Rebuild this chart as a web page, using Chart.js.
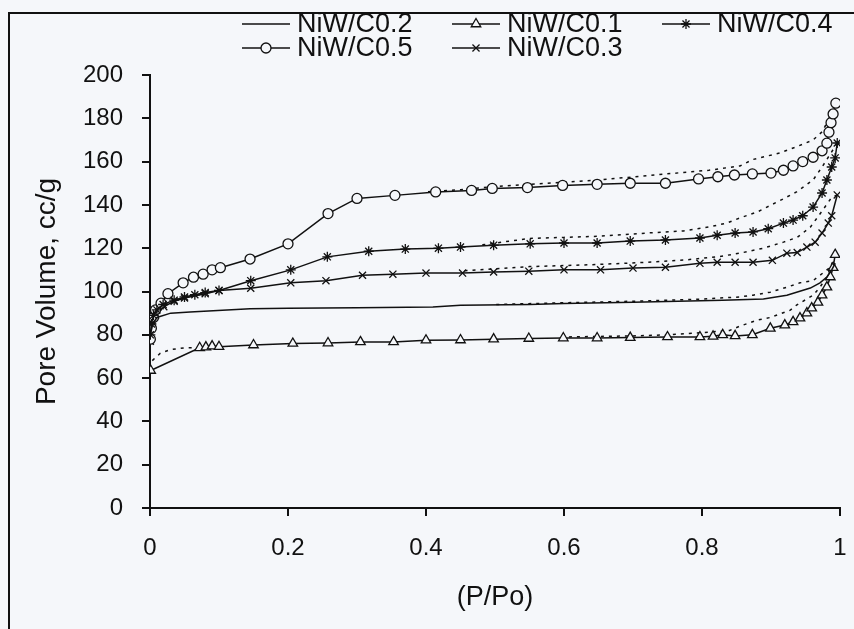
<!DOCTYPE html>
<html>
<head>
<meta charset="utf-8">
<script src="https://cdn.jsdelivr.net/npm/chart.js@4.4.1/dist/chart.umd.min.js"></script>
<style>
  body { margin: 0; background: #f5f7fa; }
  #wrap { position: relative; width: 854px; height: 629px; }
</style>
</head>
<body>
<div id="wrap"><canvas id="myChart" width="854" height="629"></canvas></div>
<script>
// relative pressure (P/Po) and pore volume (cc/g), adsorption + desorption branches
var c02AdsP = [0.0005, 0.004, 0.01, 0.03, 0.058, 0.145, 0.2, 0.3, 0.41, 0.45, 0.55, 0.6, 0.7, 0.83, 0.889, 0.923, 0.957, 0.971, 0.981, 0.988, 0.993];
var c02AdsV = [80, 85, 88, 90, 90.5, 92, 92.3, 92.5, 92.8, 93.7, 94, 94.5, 95, 96, 96.5, 98.3, 101.6, 104, 106.7, 110, 113];
var c02DesP = [0.993, 0.975, 0.961, 0.942, 0.923, 0.899, 0.874, 0.855, 0.8, 0.7, 0.6, 0.5];
var c02DesV = [113, 108.5, 105, 104, 102, 99.7, 98.3, 97.5, 96.5, 95.5, 94.8, 94];

var c01AdsP = [0.001, 0.072, 0.081, 0.09, 0.1, 0.15, 0.207, 0.258, 0.305, 0.353, 0.4, 0.45, 0.498, 0.549, 0.599, 0.648, 0.696, 0.75, 0.797, 0.816, 0.83, 0.848, 0.873, 0.899, 0.92, 0.932, 0.942, 0.952, 0.959, 0.968, 0.974, 0.981, 0.986, 0.99, 0.993];
var c01AdsV = [63.5, 74, 74.3, 74.8, 74.5, 75.3, 76, 76.2, 76.7, 76.7, 77.5, 77.6, 78, 78.3, 78.5, 78.5, 78.7, 79, 79, 79.3, 80, 79.5, 80, 83, 84.5, 86, 87.7, 90, 92.3, 95, 98.3, 102, 106.7, 111, 117];
var c01DesP = [0.993, 0.981, 0.971, 0.961, 0.937, 0.928, 0.899, 0.88, 0.855, 0.84, 0.8, 0.75, 0.7, 0.6];
var c01DesV = [117, 106.7, 102, 98.3, 93.7, 91.4, 88, 86.8, 84, 82, 81, 80, 79.5, 79];
var c01DesLowP = [0.072, 0.05, 0.03, 0.015, 0.003];
var c01DesLowV = [74, 74, 73.2, 71.5, 68];

var c04AdsP = [0.0005, 0.002, 0.005, 0.01, 0.019, 0.035, 0.05, 0.065, 0.08, 0.1, 0.146, 0.204, 0.257, 0.317, 0.37, 0.418, 0.45, 0.498, 0.551, 0.6, 0.648, 0.696, 0.747, 0.797, 0.822, 0.848, 0.874, 0.896, 0.918, 0.932, 0.946, 0.961, 0.974, 0.981, 0.988, 0.993, 0.996];
var c04AdsV = [80, 85, 89, 91.5, 94, 96, 97.5, 98.5, 99.5, 100.5, 105, 110, 116, 118.6, 119.6, 120, 120.5, 121.4, 122, 122.4, 122.4, 123.3, 123.8, 124.7, 126, 127, 127.5, 129, 131.6, 133, 135, 139, 145.5, 151.5, 157.5, 161.7, 168.6];
var c04DesP = [0.996, 0.974, 0.961, 0.937, 0.913, 0.88, 0.855, 0.836, 0.81, 0.773, 0.72, 0.65, 0.6, 0.55, 0.48];
var c04DesV = [168.6, 157.5, 151.5, 146, 142, 136.7, 134, 131.6, 129.8, 128, 127, 125.5, 125, 124.5, 121.5];

var c05AdsP = [0.0005, 0.002, 0.005, 0.008, 0.016, 0.026, 0.048, 0.063, 0.077, 0.09, 0.102, 0.145, 0.2, 0.258, 0.3, 0.355, 0.414, 0.466, 0.496, 0.547, 0.598, 0.648, 0.696, 0.747, 0.795, 0.823, 0.847, 0.873, 0.9, 0.918, 0.932, 0.946, 0.961, 0.974, 0.981, 0.984, 0.987, 0.99, 0.994];
var c05AdsV = [78, 83, 88, 91.5, 94.6, 99, 104, 106.6, 108, 110, 111, 115, 122, 136, 143, 144.4, 146, 146.7, 147.6, 148, 149, 149.5, 150, 150, 152, 153, 153.8, 154.3, 154.7, 156, 158, 160, 162, 165, 168.5, 173.6, 178, 182, 187];
var c05DesP = [0.994, 0.975, 0.961, 0.938, 0.913, 0.874, 0.855, 0.81, 0.773, 0.72, 0.65, 0.6, 0.5, 0.45, 0.4];
var c05DesV = [187, 174, 170, 167, 164, 161, 158, 156, 155, 153.5, 151.5, 150.5, 148.5, 147, 146];

var c03AdsP = [0.0005, 0.003, 0.008, 0.02, 0.035, 0.05, 0.08, 0.1, 0.146, 0.204, 0.255, 0.308, 0.352, 0.4, 0.453, 0.498, 0.549, 0.6, 0.653, 0.7, 0.747, 0.797, 0.822, 0.848, 0.874, 0.902, 0.923, 0.938, 0.952, 0.964, 0.974, 0.983, 0.988, 0.996];
var c03AdsV = [77, 84, 89, 93, 95.5, 97, 99, 100.5, 101.5, 104, 105, 107.5, 108, 108.5, 108.5, 109, 109.4, 110, 110, 110.8, 111.2, 113, 113.5, 113.5, 113.5, 114.4, 117.7, 118, 120.5, 122.8, 127, 131.6, 135, 144.6];
var c03DesP = [0.996, 0.988, 0.975, 0.957, 0.938, 0.918, 0.889, 0.855, 0.822, 0.773, 0.72, 0.65, 0.55, 0.45];
var c03DesV = [144.6, 143.5, 137.6, 129.7, 125, 122.8, 120, 117.7, 116, 114.5, 113.5, 112.5, 111.5, 109.5];

var xTicks = [0, 0.2, 0.4, 0.6, 0.8, 1];
var yTicks = [0, 20, 40, 60, 80, 100, 120, 140, 160, 180, 200];

var bg = '#f5f7fa';
var ink = '#111';
var fontFam = "'Liberation Sans', Arial, sans-serif";

function pts(px, py) {
    return px.map(function(p, i) { return { x: p, y: py[i] }; });
}

function ads(label, px, py, style, r) {
    return {
        label: label,
        data: pts(px, py),
        showLine: true,
        borderColor: ink,
        borderWidth: 1.5,
        pointStyle: style,
        pointRadius: style ? r : 0,
        pointBackgroundColor: bg,
        pointBorderColor: ink,
        pointBorderWidth: 1.3
    };
}

function des(px, py) {
    return {
        label: '',
        data: pts(px, py),
        showLine: true,
        borderColor: ink,
        borderWidth: 1.5,
        borderDash: [3, 5],
        pointRadius: 0
    };
}

var legendItems = [
    { label: 'NiW/C0.2', style: false, r: 0, x: 242, y: 24 },
    { label: 'NiW/C0.1', style: 'triangle', r: 5.5, x: 452, y: 24 },
    { label: 'NiW/C0.4', style: 'star', r: 5, x: 662, y: 24 },
    { label: 'NiW/C0.5', style: 'circle', r: 5, x: 242, y: 48 },
    { label: 'NiW/C0.3', style: 'crossRot', r: 5, x: 452, y: 48 }
];

// page background + scanned frame
var framePlugin = {
    id: 'frame',
    beforeDraw: function(chart) {
        var ctx = chart.ctx;
        ctx.save();
        ctx.fillStyle = bg;
        ctx.fillRect(0, 0, chart.width, chart.height);
        ctx.strokeStyle = ink;
        ctx.lineWidth = 2;
        ctx.beginPath();
        ctx.moveTo(9, 629);
        ctx.lineTo(9, 13);
        ctx.lineTo(854, 13);
        ctx.stroke();
        ctx.restore();
    }
};

// legend like the original: line with marker in the middle, then label
var legendPlugin = {
    id: 'oldLegend',
    afterDraw: function(chart) {
        var ctx = chart.ctx;
        ctx.save();
        legendItems.forEach(function(it) {
            ctx.strokeStyle = ink;
            ctx.lineWidth = 1.5;
            ctx.beginPath();
            ctx.moveTo(it.x, it.y);
            ctx.lineTo(it.x + 48, it.y);
            ctx.stroke();
            if (it.style) {
                ctx.fillStyle = bg;
                ctx.lineWidth = 1.3;
                Chart.helpers.drawPoint(ctx, { pointStyle: it.style, radius: it.r, rotation: 0, borderWidth: 1.3 }, it.x + 24, it.y);
            }
            ctx.fillStyle = ink;
            ctx.font = '27px ' + fontFam;
            ctx.textAlign = 'left';
            ctx.textBaseline = 'middle';
            ctx.fillText(it.label, it.x + 55, it.y + 1);
        });
        ctx.restore();
    }
};

var ctx = document.getElementById('myChart').getContext('2d');
var chart = new Chart(ctx, {
    type: 'scatter',
    data: {
        datasets: [
            ads('NiW/C0.2', c02AdsP, c02AdsV, false, 0),
            des(c02DesP, c02DesV),
            ads('NiW/C0.1', c01AdsP, c01AdsV, 'triangle', 5.5),
            des(c01DesP, c01DesV),
            des(c01DesLowP, c01DesLowV),
            ads('NiW/C0.4', c04AdsP, c04AdsV, 'star', 5),
            des(c04DesP, c04DesV),
            ads('NiW/C0.5', c05AdsP, c05AdsV, 'circle', 5),
            des(c05DesP, c05DesV),
            ads('NiW/C0.3', c03AdsP, c03AdsV, 'crossRot', 5),
            des(c03DesP, c03DesV)
        ]
    },
    options: {
        responsive: false,
        animation: false,
        events: [],
        layout: { padding: { left: 0, right: 14, top: 75, bottom: 0 } },
        plugins: {
            legend: { display: false },
            tooltip: { enabled: false }
        },
        scales: {
            x: {
                type: 'linear',
                min: 0,
                max: 1,
                afterBuildTicks: function(scale) {
                    scale.ticks = xTicks.map(function(v) { return { value: v }; });
                },
                afterFit: function(scale) {
                    scale.height = 121;
                    scale.paddingLeft = 0;
                    scale.paddingRight = 0;
                },
                border: { color: ink, width: 2 },
                grid: { drawOnChartArea: false, drawTicks: true, tickLength: 8, color: ink, lineWidth: 2 },
                ticks: {
                    color: ink,
                    padding: 18,
                    maxRotation: 0,
                    font: { family: fontFam, size: 24 },
                    callback: function(v) { return String(v); }
                },
                title: {
                    display: true,
                    text: '(P/Po)',
                    color: ink,
                    font: { family: fontFam, size: 27 },
                    padding: { top: 0, bottom: 15 }
                }
            },
            y: {
                min: 0,
                max: 200,
                afterBuildTicks: function(scale) {
                    scale.ticks = yTicks.map(function(v) { return { value: v }; });
                },
                afterFit: function(scale) {
                    scale.width = 150;
                    scale.paddingTop = 0;
                    scale.paddingBottom = 0;
                },
                border: { color: ink, width: 2 },
                grid: { drawOnChartArea: false, drawTicks: true, tickLength: 8, color: ink, lineWidth: 2 },
                ticks: {
                    color: ink,
                    padding: 19,
                    font: { family: fontFam, size: 24 }
                },
                title: {
                    display: true,
                    text: 'Pore Volume, cc/g',
                    color: ink,
                    font: { family: fontFam, size: 28 },
                    padding: { top: 30, bottom: 0 }
                }
            }
        }
    },
    plugins: [framePlugin, legendPlugin]
});
</script>
</body>
</html>
